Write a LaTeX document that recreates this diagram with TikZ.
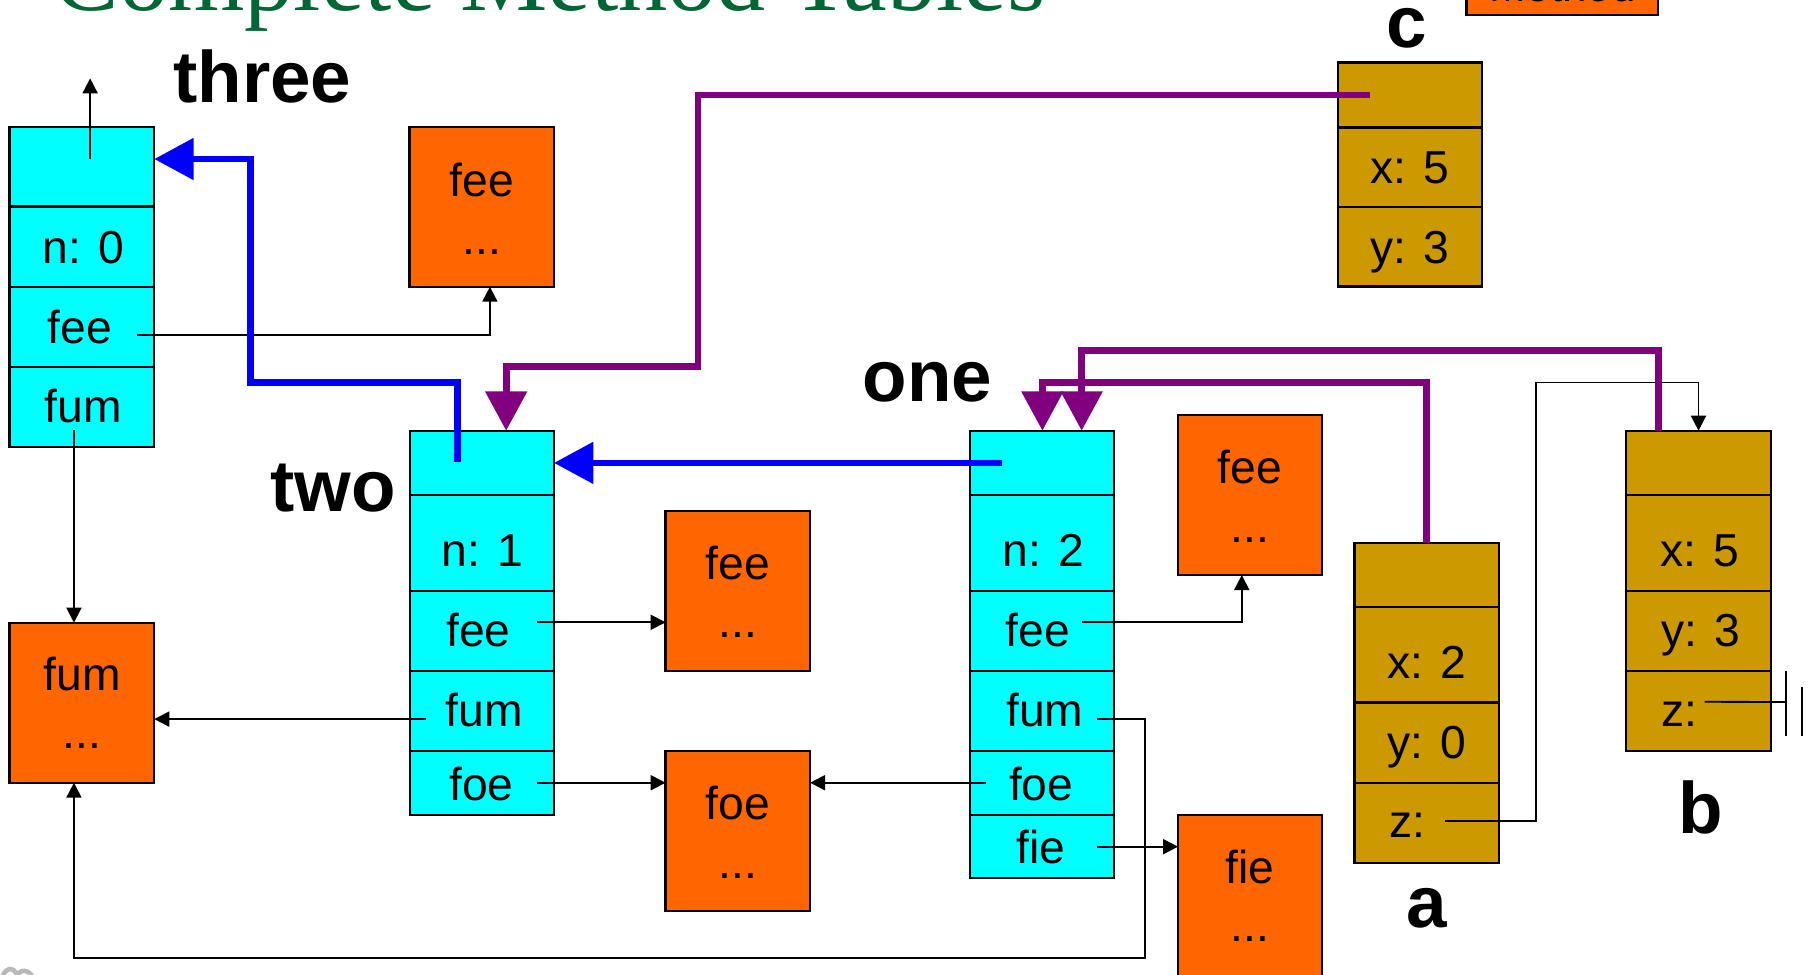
\documentclass[tikz,border=0pt]{standalone}
\usepackage{fontspec}
\setmainfont{Liberation Sans}
\newfontfamily\serifttl{Liberation Serif}
\usetikzlibrary{arrows.meta,calc,fit}

\definecolor{tblcyan}{RGB}{0,255,255}
\definecolor{mthorange}{RGB}{255,102,0}
\definecolor{objgold}{RGB}{204,153,0}
\definecolor{ptrpurple}{RGB}{128,0,128}
\definecolor{ptrblue}{RGB}{0,0,255}
\definecolor{ttlgreen}{RGB}{0,102,51}

\tikzset{
  cellbox/.style={draw=black, line width=1pt, inner sep=0pt, outer sep=0pt, rectangle},
  lbl/.style={font=\fontsize{20pt}{24pt}\selectfont, inner sep=0pt, anchor=base},
  namelbl/.style={font=\fontsize{31.5pt}{36pt}\selectfont\bfseries, inner sep=0pt, anchor=base},
  link/.style={draw=black, line width=0.8pt, -{Triangle[length=6.5pt,width=6.5pt]}},
  wire/.style={draw=black, line width=0.8pt},
  superptr/.style={draw=ptrblue, line width=2.9pt, -{Triangle[length=17pt,width=17.5pt]}},
  classptr/.style={draw=ptrpurple, line width=2.9pt, -{Triangle[length=17pt,width=17.5pt]}},
}
% one rectangular cell: name, x1, y1, x2, y2, fill
\newcommand\mcell[6]{\node[cellbox, fill=#6, fit={(#2,#3) (#4,#5)}] (#1) {};}

\begin{document}
\begin{tikzpicture}[x=0.5pt,y=-0.5pt]
\useasboundingbox (0,0) rectangle (1568,843);
\clip (0,0) rectangle (1568,843);

% heading and legend box, partly above the page
\node[font=\serifttl\fontsize{42.5pt}{48pt}\selectfont, text=ttlgreen, anchor=base, inner sep=0pt] (ttl) at (475.5,9.2) {Complete Method Tables};
\mcell{mth}{1269}{-60}{1435}{13}{mthorange}
\node[font=\fontsize{19pt}{22pt}\selectfont, anchor=base, inner sep=0pt] (mth-t) at (1352,1.3) {Method};

% ---- class table "three"
\mcell{th-top}{8.3}{109.6}{133.5}{178.8}{tblcyan}
\mcell{th-n}{8.3}{178.8}{133.5}{248.1}{tblcyan}
\mcell{th-fee}{8.3}{248.1}{133.5}{317.3}{tblcyan}
\mcell{th-fum}{8.3}{317.3}{133.5}{386.5}{tblcyan}
\node[lbl] (th-n-t) at (72,227.7) {n: 0};
\node[lbl] (th-fee-t) at (69,297) {fee};
\node[lbl] (th-fum-t) at (72,365.8) {fum};
\node[namelbl] (th-name) at (227,89) {three};

% ---- class table "two"
\mcell{tw-top}{354.8}{372.7}{479.4}{428.4}{tblcyan}
\mcell{tw-n}{354.8}{428.4}{479.4}{511.4}{tblcyan}
\mcell{tw-fee}{354.8}{511.4}{479.4}{580.6}{tblcyan}
\mcell{tw-fum}{354.8}{580.6}{479.4}{649.9}{tblcyan}
\mcell{tw-foe}{354.8}{649.9}{479.4}{705.3}{tblcyan}
\node[lbl] (tw-n-t) at (417.5,490.4) {n: 1};
\node[lbl] (tw-fee-t) at (414,559.6) {fee};
\node[lbl] (tw-fum-t) at (419,628.3) {fum};
\node[lbl] (tw-foe-t) at (416.5,692.3) {foe};
\node[namelbl] (tw-name) at (288,443) {two};

% ---- class table "one"
\mcell{on-top}{839.4}{372.7}{964}{428.4}{tblcyan}
\mcell{on-n}{839.4}{428.4}{964}{511.4}{tblcyan}
\mcell{on-fee}{839.4}{511.4}{964}{580.6}{tblcyan}
\mcell{on-fum}{839.4}{580.6}{964}{649.9}{tblcyan}
\mcell{on-foe}{839.4}{649.9}{964}{705.3}{tblcyan}
\mcell{on-fie}{839.4}{705.3}{964}{760}{tblcyan}
\node[lbl] (on-n-t) at (903,490.4) {n: 2};
\node[lbl] (on-fee-t) at (898,559.6) {fee};
\node[lbl] (on-fum-t) at (904,628.3) {fum};
\node[lbl] (on-foe-t) at (901,692.3) {foe};
\node[lbl] (on-fie-t) at (901,747) {fie};
\node[namelbl] (on-name) at (802.5,347) {one};

% ---- method bodies
\mcell{orfee1}{354.4}{109.6}{479.5}{248.1}{mthorange}
\node[lbl] (orfee1-a) at (417,169.6) {fee};
\node[lbl] (orfee1-b) at (417,219.8) {...};
\mcell{orfee2}{576}{442}{701}{580.5}{mthorange}
\node[lbl] (orfee2-a) at (638.5,501.5) {fee};
\node[lbl] (orfee2-b) at (638.5,552) {...};
\mcell{orfoe}{576}{650}{701}{788.5}{mthorange}
\node[lbl] (orfoe-a) at (638.5,709.5) {foe};
\node[lbl] (orfoe-b) at (638.5,760) {...};
\mcell{orfee3}{1019.4}{359.1}{1143.7}{497.6}{mthorange}
\node[lbl] (orfee3-a) at (1081.5,418.3) {fee};
\node[lbl] (orfee3-b) at (1081.5,469) {...};
\mcell{orfie}{1019.4}{705.3}{1143.7}{852}{mthorange}
\node[lbl] (orfie-a) at (1081.5,764.3) {fie};
\node[lbl] (orfie-b) at (1081.5,815) {...};
\mcell{orfum}{8.3}{538.8}{133.5}{677.3}{mthorange}
\node[lbl] (orfum-a) at (71,597.7) {fum};
\node[lbl] (orfum-b) at (71,648) {...};

% ---- objects
\mcell{c-top}{1157.6}{54}{1282.4}{110.2}{objgold}
\mcell{c-x}{1157.6}{110.2}{1282.4}{179}{objgold}
\mcell{c-y}{1157.6}{179}{1282.4}{248}{objgold}
\node[lbl] (c-x-t) at (1220,159) {x: 5};
\node[lbl] (c-y-t) at (1220,228) {y: 3};
\node[namelbl] (c-name) at (1217.5,41.3) {c};

\mcell{a-top}{1172}{470}{1297}{525}{objgold}
\mcell{a-x}{1172}{525}{1297}{608}{objgold}
\mcell{a-y}{1172}{608}{1297}{677.5}{objgold}
\mcell{a-z}{1172}{677.5}{1297}{747}{objgold}
\node[lbl] (a-x-t) at (1235,586.8) {x: 2};
\node[lbl] (a-y-t) at (1235,656) {y: 0};
\node[lbl] (a-z-t) at (1217.6,724.4) {z:};
\node[namelbl] (a-name) at (1234.5,803) {a};

\mcell{b-top}{1407}{372.7}{1532.6}{428.4}{objgold}
\mcell{b-x}{1407}{428.4}{1532.6}{511.4}{objgold}
\mcell{b-y}{1407}{511.4}{1532.6}{580.6}{objgold}
\mcell{b-z}{1407}{580.6}{1532.6}{649.9}{objgold}
\node[lbl] (b-x-t) at (1471,490.4) {x: 5};
\node[lbl] (b-y-t) at (1472,559.6) {y: 3};
\node[lbl] (b-z-t) at (1453,628.3) {z:};
\node[namelbl] (b-name) at (1471.5,721) {b};

% ---- thin method links
\coordinate (th-ptr) at (78,67.8);
\coordinate (th-top-o) at ($(th-top.center)+(7.1,-6.6)$);
\draw[link] (th-top-o) -- (th-ptr);
\coordinate (th-fee-o) at ($(th-fee.center)+(47.7,7.3)$);
\draw[link] (th-fee-o) -| ($(orfee1.south)+(7,0)$);
\coordinate (th-fum-o) at ($(th-fum.center)+(-6.9,20)$);
\draw[link] (th-fum-o) -- (th-fum-o |- orfum.north);

\coordinate (tw-fee-o) at ($(tw-fee.center)+(47.9,-7.5)$);
\draw[link] (tw-fee-o) -- (tw-fee-o -| orfee2.west);
\coordinate (tw-fum-o) at ($(tw-fum.center)+(-48.5,7)$);
\draw[link] (tw-fum-o) -- (tw-fum-o -| orfum.east);
\coordinate (tw-foe-o) at ($(tw-foe.center)+(47.9,-0.3)$);
\draw[link] (tw-foe-o) -- (tw-foe-o -| orfoe.west);

\coordinate (on-fee-o) at ($(on-fee.center)+(34.3,-7.5)$);
\draw[link] (on-fee-o) -| ($(orfee3.south)+(-7,0)$);
\coordinate (on-fum-o) at ($(on-fum.center)+(47.7,6.75)$);
\draw[link] (on-fum-o) -| (991,829.3) -| ($(orfum.south)+(-6.9,0)$);
\coordinate (on-foe-o) at ($(on-foe.center)+(-48.5,-0.3)$);
\draw[link] (on-foe-o) -- (on-foe-o -| orfoe.east);
\coordinate (on-fie-o) at ($(on-fie.center)+(47.7,0)$);
\draw[link] (on-fie-o) -- (on-fie-o -| orfie.west);

% ---- object field links
\coordinate (a-z-o) at ($(a-z.center)+(16.1,-1.7)$);
\draw[link] (a-z-o) -| (1329,331) -| (b-top.north);
\coordinate (b-z-o) at ($(b-z.center)+(5.2,-8)$);
\coordinate (b-nil) at (1545.6,607.5);
\draw[wire] (b-z-o) -- (b-nil);
\draw[wire, line width=0.9pt] ($(b-nil)+(0,-26.8)$) -- ($(b-nil)+(0,29.4)$);
\draw[wire, line width=0.9pt] ($(b-nil)+(13.4,-13)$) -- ($(b-nil)+(13.4,29.4)$);

% ---- superclass pointers
\coordinate (tw-top-o) at ($(tw-top.center)+(-21.1,-1)$);
\draw[superptr] (tw-top-o) |- (217,331) |- ($(th-top.east)+(0,-6.6)$);
\coordinate (on-top-o) at ($(on-top.center)+(-34.9,0)$);
\draw[superptr] (on-top-o) -- (on-top-o -| tw-top.east);

% ---- class pointers of the objects
\coordinate (c-top-o) at ($(c-top.center)+(-34.4,0)$);
\draw[classptr] (c-top-o) -| (604,317.3) -| ($(tw-top.north)+(20.9,0)$);
\draw[classptr] (a-top.north) |- ($(on-top.north)+(0.3,-41.7)$) -- ($(on-top.north)+(0.3,0)$);
\draw[classptr] ($(b-top.north)+(-34.8,0)$) |- ($(on-top.north)+(34.3,-69.2)$) -- ($(on-top.north)+(34.3,0)$);

% ---- footer logo fragment
\draw[gray!55, line width=2pt] (1,850) .. controls (3,836) and (12,836) .. (15,844);
\draw[gray!55, line width=2pt] (14,846) .. controls (17,837) and (27,838) .. (30,850);
\end{tikzpicture}
\end{document}
